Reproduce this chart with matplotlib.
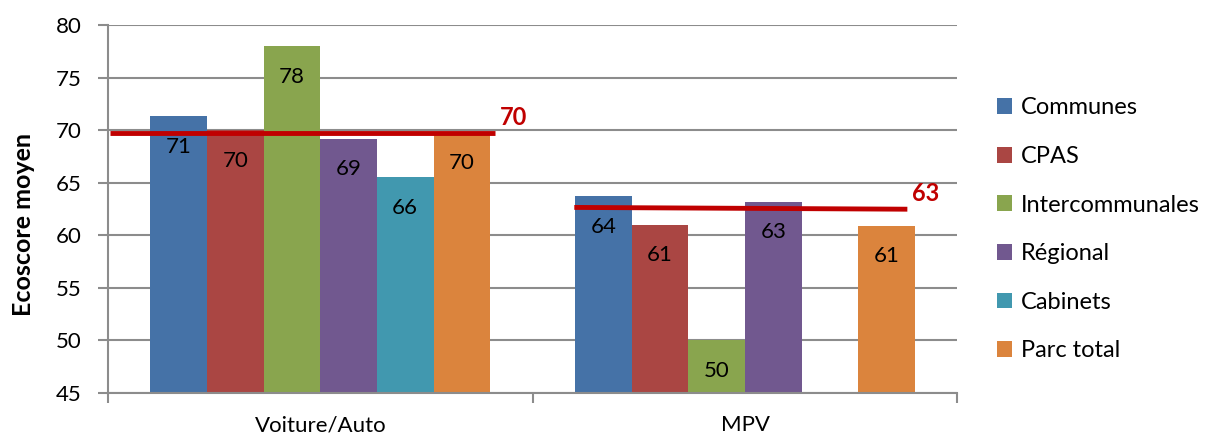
import matplotlib
matplotlib.use('Agg')
from matplotlib import pyplot as plt
from matplotlib.patches import Patch
import numpy as np

plt.rcParams['font.family'] = ['Lato', 'DejaVu Sans']

# Data
categories = ['Voiture/Auto', 'MPV']
series = ['Communes', 'CPAS', 'Intercommunales', 'Régional', 'Cabinets', 'Parc total']
colors = ['#4572A7', '#AA4643', '#89A54E', '#71588F', '#4198AF', '#DB843D']
values = {
    'Communes': [71.3, 63.7],
    'CPAS': [70.0, 61.0],
    'Intercommunales': [78.0, 50.0],
    'Régional': [69.2, 63.2],
    'Cabinets': [65.5, np.nan],
    'Parc total': [69.8, 60.9],
}
labels = {
    'Communes': ['71', '64'],
    'CPAS': ['70', '61'],
    'Intercommunales': ['78', '50'],
    'Régional': ['69', '63'],
    'Cabinets': ['66', ''],
    'Parc total': ['70', '61'],
}
# average lines (start x, end x, start y, end y) per category
avg_x = [[-0.494, 0.412], [0.598, 1.382]]
avg_y = [[69.7, 69.7], [62.65, 62.48]]
avg_labels = ['70', '63']

fig = plt.figure(figsize=(12.12, 4.37), dpi=100)
ax = fig.add_axes([0.089, 0.1007, 0.701, 0.8421])

x = np.arange(len(categories))
w = 0.8 / len(series)
for i, s in enumerate(series):
    pos = x - 0.4 + w * (i + 0.5)
    ax.bar(pos, values[s], width=w, bottom=0, color=colors[i], zorder=2)
    for p, v, t in zip(pos, values[s], labels[s]):
        if t:
            ax.annotate(t, (p, v), xytext=(0, -22), textcoords='offset points',
                        ha='center', va='center', fontsize=16, color='black', zorder=4)

for xs, ys, t in zip(avg_x, avg_y, avg_labels):
    ax.plot(xs, ys, color='#C00000', lw=3.5, zorder=3, solid_capstyle='butt')
    ax.text(xs[1] + 0.01, ys[1] + 1.5, t, color='#C00000', fontsize=17,
            fontweight='bold', ha='left', va='center')

ax.set_ylim(45, 80)
ax.set_xlim(-0.5, 1.5)
ax.set_yticks(np.arange(45, 81, 5))
ax.yaxis.grid(True, color='#8C8C8C', lw=1.5, zorder=0)
ax.set_axisbelow(True)

ax.set_xticks(x)
ax.set_xticklabels(categories, fontsize=16)
ax.set_xticks([-0.5, 0.5, 1.5], minor=True)
ax.tick_params(axis='x', which='major', length=0, pad=16)
ax.tick_params(axis='x', which='minor', length=7, width=1.5, color='#8C8C8C', direction='out')
ax.tick_params(axis='y', length=7, width=1.5, color='#8C8C8C', labelsize=16, pad=12)

for sp in ['top', 'right']:
    ax.spines[sp].set_visible(False)
for sp in ['left', 'bottom']:
    ax.spines[sp].set_color('#8C8C8C')
    ax.spines[sp].set_linewidth(1.5)

ax.set_ylabel('Ecoscore moyen', fontsize=18, fontweight='bold')
ax.yaxis.set_label_coords(-0.086, 0.457)

handles = [Patch(facecolor=c, edgecolor='none') for c in colors]
fig.legend(handles, series, loc='center left', bbox_to_anchor=(0.8226, 0.475),
           frameon=False, fontsize=17, handlelength=0.65, handleheight=0.65,
           handletextpad=0.35, labelspacing=1.17, borderpad=0, borderaxespad=0)

fig.savefig('out.png', dpi=100)
